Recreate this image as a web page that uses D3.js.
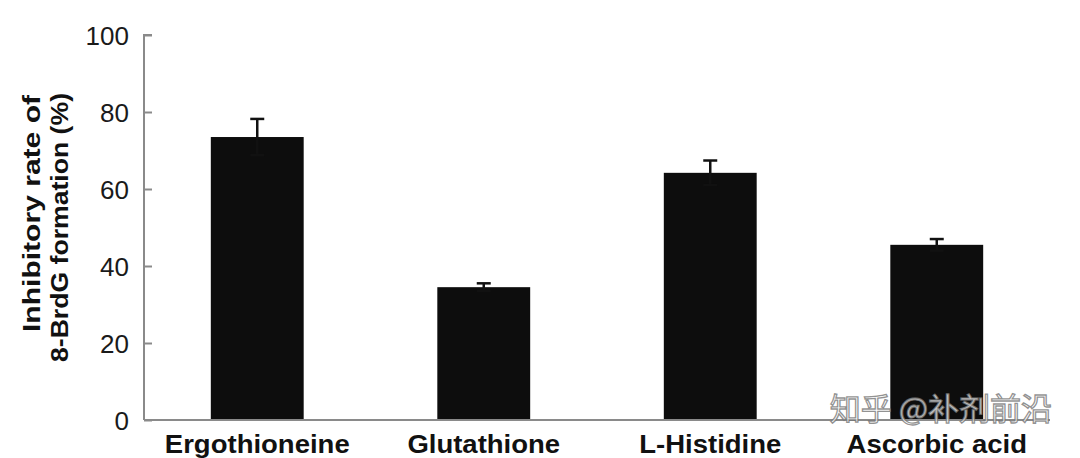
<!DOCTYPE html>
<html><head><meta charset="utf-8">
<script src="https://cdn.jsdelivr.net/npm/d3@7"></script>
<style>body{margin:0;background:#fff}svg{display:block}</style>
</head><body>
<svg id="c" width="1080" height="458"></svg>
<script>
const categories = ["Ergothioneine", "Glutathione", "L-Histidine", "Ascorbic acid"];
const values = [73.5, 34.5, 64.2, 45.5];
const errors = [4.7, 1.0, 3.2, 1.5];
const yTicks = [0, 20, 40, 60, 80, 100];
const yLabelLines = ["Inhibitory rate of", "8-BrdG formation (%)"];
const watermark = "知乎 @补剂前沿";

const svg = d3.select("#c");
const x0 = 144, x1 = 1050, yTop = 35, yBot = 420;
const x = d3.scaleBand().domain(categories).range([x0, x1]).paddingInner(0.59).paddingOuter(0.295);
const y = d3.scaleLinear().domain([0, 100]).range([yBot, yTop]);

// bars
svg.selectAll("rect.bar").data(categories).join("rect")
  .attr("class", "bar")
  .attr("x", d => x(d)).attr("width", x.bandwidth())
  .attr("y", (d, i) => y(values[i])).attr("height", (d, i) => y(0) - y(values[i]))
  .attr("fill", "#0d0d0d");

// error bars
const eg = svg.append("g").attr("stroke", "#111").attr("stroke-width", 2.5);
categories.forEach((c, i) => {
  const cx = x(c) + x.bandwidth() / 2;
  eg.append("line").attr("x1", cx).attr("x2", cx).attr("y1", y(values[i] + errors[i])).attr("y2", y(values[i] - errors[i]));
  eg.append("line").attr("x1", cx - 7).attr("x2", cx + 7).attr("y1", y(values[i] + errors[i])).attr("y2", y(values[i] + errors[i]));
  eg.append("line").attr("x1", cx - 7).attr("x2", cx + 7).attr("y1", y(values[i] - errors[i])).attr("y2", y(values[i] - errors[i]));
});

// y axis
const ya = svg.append("g").attr("transform", `translate(${x0},0)`)
  .call(d3.axisRight(y).tickValues(yTicks).tickSize(8).tickFormat(d3.format("d")));
ya.select(".domain").attr("stroke", "#8a8a8a").attr("stroke-width", 2).attr("d", `M8,${yTop}H0V${yBot}`);
ya.selectAll(".tick line").attr("stroke", "#8a8a8a").attr("stroke-width", 2);
ya.selectAll(".tick text").attr("x", -15).attr("text-anchor", "end").attr("dy", "0.36em")
  .attr("font-family", "Liberation Sans, Arial, sans-serif").attr("font-size", 26).attr("fill", "#1a1a1a");

// x axis
const xa = svg.append("g").attr("transform", `translate(0,${yBot})`)
  .call(d3.axisBottom(x).tickSize(0));
xa.select(".domain").attr("stroke", "#8a8a8a").attr("stroke-width", 2).attr("d", `M${x0},0H${x1}`);
xa.selectAll(".tick text").attr("y", 33).attr("dy", 0)
  .attr("font-family", "Liberation Sans, Arial, sans-serif").attr("font-weight", "bold")
  .attr("font-size", 25).attr("fill", "#111")
  .each(function() { const w = this.getComputedTextLength(); d3.select(this).attr("textLength", w * 1.1).attr("lengthAdjust", "spacingAndGlyphs"); });

// y label
const ylab = svg.append("g").attr("font-family", "Liberation Sans, Arial, sans-serif")
  .attr("font-weight", "bold").attr("font-size", 24).attr("fill", "#111");
const lensY = [237, 269], startsY = [332, 362], baseX = [40, 68];
yLabelLines.forEach((t, i) => {
  ylab.append("text").attr("transform", `translate(${baseX[i]},${startsY[i]}) rotate(-90)`)
    .attr("textLength", lensY[i]).attr("lengthAdjust", "spacingAndGlyphs").text(t);
});

// watermark
svg.append("text").attr("x", 1052).attr("y", 420).attr("text-anchor", "end")
  .attr("font-family", "Noto Sans CJK SC").attr("font-size", 31)
  .attr("fill", "rgba(255,255,255,0.8)").attr("stroke", "rgba(110,110,110,0.75)").attr("stroke-width", 1.3)
  .text(watermark);
</script>
</body></html>
